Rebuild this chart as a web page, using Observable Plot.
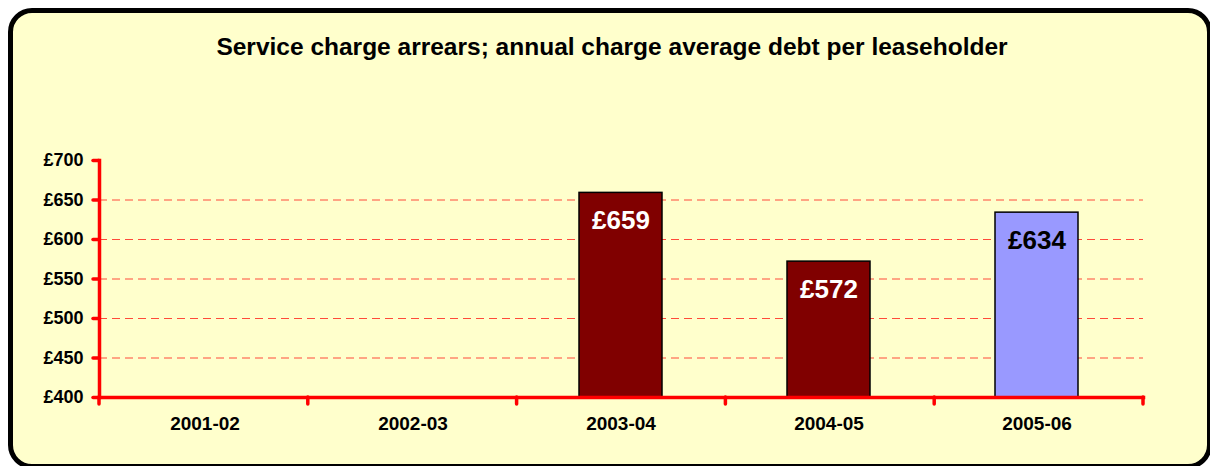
<!DOCTYPE html>
<html>
<head>
<meta charset="utf-8">
<script src="https://cdn.jsdelivr.net/npm/d3@7"></script>
<script src="https://cdn.jsdelivr.net/npm/@observablehq/plot@0.6"></script>
<style>
  html, body { margin: 0; padding: 0; background: #ffffff; }
  body { width: 1210px; height: 466px; overflow: hidden; position: relative; font-family: "Liberation Sans", Arial, sans-serif; }
  #frame { position: absolute; left: 8px; top: 8px; width: 1194px; height: 451px; border: 5px solid #000; border-radius: 24px; background: #FFFFCC; }
  #title { position: absolute; left: 0; width: 1224px; top: 33px; text-align: center; font-weight: bold; font-size: 24.5px; color: #000; }
  #chart { position: absolute; left: 0; top: 0; }
</style>
</head>
<body>
<div id="frame"></div>
<div id="title">Service charge arrears; annual charge average debt per leaseholder</div>
<div id="chart"></div>
<script>
const categories = ["2001-02", "2002-03", "2003-04", "2004-05", "2005-06"];
const barYears = ["2003-04", "2004-05", "2005-06"];
const barValues = [659, 572, 634];
const barColors = ["#800000", "#800000", "#9999FF"];
const labelColors = ["#ffffff", "#ffffff", "#000000"];
const yTicks = [400, 450, 500, 550, 600, 650, 700];
const gridValues = [450, 500, 550, 600, 650];

const data = barYears.map((year, i) => ({year, value: barValues[i], color: barColors[i], label: labelColors[i]}));

// tick marks at the category band boundaries along the x axis
function bandTicks(index, scales, values, dims) {
  const left = dims.marginLeft;
  const right = dims.width - dims.marginRight;
  const step = (right - left) / categories.length;
  const y0 = dims.height - dims.marginBottom;
  const g = document.createElementNS("http://www.w3.org/2000/svg", "g");
  for (let i = 0; i <= categories.length; i++) {
    const b = left + i * step;
    const l = document.createElementNS("http://www.w3.org/2000/svg", "line");
    l.setAttribute("x1", b); l.setAttribute("x2", b);
    l.setAttribute("y1", y0); l.setAttribute("y2", y0 + 7);
    l.setAttribute("stroke", "#ff0000");
    l.setAttribute("stroke-width", 3.5);
    l.setAttribute("stroke-linecap", "round");
    g.appendChild(l);
  }
  return g;
}

const chart = Plot.plot({
  width: 1210,
  height: 466,
  marginLeft: 99,
  marginRight: 67,
  marginTop: 160,
  marginBottom: 69,
  style: {background: "transparent", fontFamily: "'Liberation Sans', Arial, sans-serif", color: "#000"},
  x: {domain: categories, paddingInner: 0.6, paddingOuter: 0.3},
  y: {domain: [400, 700]},
  marks: [
    Plot.ruleY(gridValues, {stroke: "#ff4a3a", strokeWidth: 1, strokeDasharray: "8,5"}),
    Plot.barY(data, {x: "year", y1: 400, y2: "value", fill: "color", stroke: "#000", strokeWidth: 1.5}),
    Plot.text(data, {x: "year", y: "value", text: d => "£" + d.value, fill: "label", dy: 28, fontSize: 26, fontWeight: "bold"}),
    Plot.axisY({ticks: yTicks, tickFormat: d => "£" + d, tickSize: 6, tickPadding: 10, stroke: "#ff0000", strokeWidth: 3.5, strokeLinecap: "round", fill: "#000", fontSize: 18, fontWeight: "bold", label: null}),
    Plot.axisX({tickSize: 0, tickPadding: 19, fill: "#000", fontSize: 19, fontWeight: "bold", label: null}),
    Plot.frame({anchor: "left", stroke: "#ff0000", strokeWidth: 3.5}),
    Plot.frame({anchor: "bottom", stroke: "#ff0000", strokeWidth: 3.5}),
    bandTicks
  ]
});
document.getElementById("chart").appendChild(chart);
</script>
</body>
</html>
